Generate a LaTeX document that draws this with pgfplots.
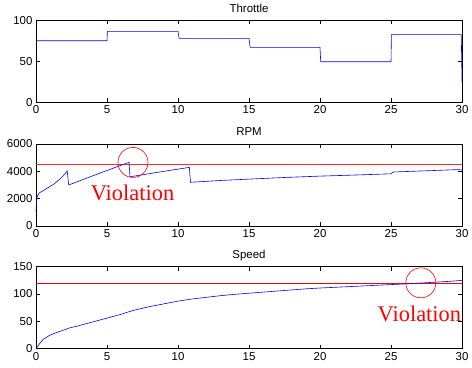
\documentclass[border=0pt]{standalone}
\usepackage{pgfplots}
\pgfplotsset{compat=1.18}
\usepackage{fontspec}
\setmainfont{Liberation Sans}
\newfontfamily\vfont{Liberation Serif}

\pgfplotsset{
  every axis title/.style={at={(0.5,1)}, anchor=base, yshift=8bp, inner sep=0pt, font=\fontsize{11.5}{13}\selectfont},
  mstyle/.style={
    scale only axis, width=426bp, height=82bp,
    anchor=south west,
    xmin=0, xmax=30, xtick={0,5,...,30},
    tick align=inside, major tick length=4bp,
    axis line style={line width=0.6pt, black},
    tick style={line width=0.5pt, black},
    ticklabel style={font=\fontsize{11.5}{13}\selectfont},
    /pgf/number format/assume math mode=true,
    /pgf/number format/1000 sep={},
    scaled y ticks=false,
    clip=false,
  }
}

\begin{document}
\begin{tikzpicture}
\path[use as bounding box] (0,0) rectangle (472bp,368bp);

% Throttle
\begin{axis}[mstyle, at={(36bp,265.7bp)}, ymin=0, ymax=100, ytick={0,50,100}, title={Throttle}]
\addplot[blue, line width=0.6pt] coordinates {
(0,75)(5,75)(5.03,86.5)(10,86.5)(10.08,78)(15,78)(15.08,67)(20,67)(20.05,49.5)(25,49.5)(25.03,82.5)(29.95,82.5)(30,25)};
\end{axis}

% RPM
\begin{axis}[mstyle, at={(36bp,142bp)}, ymin=0, ymax=6000, ytick={0,2000,4000,6000}, title={RPM}]
\addplot[red!85!white, line width=0.8pt] coordinates {(0,4530)(30,4530)};
\addplot[blue, line width=0.6pt] coordinates {
(0,1050)(0.03,1700)(0.06,2050)(0.1,2200)(0.23,2420)(0.5,2580)(0.75,2740)(1.0,2900)(1.25,3060)(1.46,3245)(1.7,3450)(1.92,3680)(2.2,4020)
(2.3,3000)(4.4,3830)(6.55,4660)
(6.62,3600)(8.7,3950)(10.8,4290)
(10.88,3200)(13,3330)(15,3430)(17.5,3550)(20,3650)(22.5,3730)(25,3820)(25.15,3950)(27.5,4040)(29.8,4130)(30,4080)};
\draw[red, line width=0.6pt] (axis cs:6.83,4650) circle[radius=15bp];
\node[red, font=\vfont\fontsize{22.5}{24}\selectfont] at (axis cs:6.8,2400) {Violation};
\end{axis}

% Speed
\begin{axis}[mstyle, at={(36bp,19.3bp)}, ymin=0, ymax=150, ytick={0,50,100,150}, title={Speed}]
\addplot[red, line width=0.6pt] coordinates {(0,120)(30,120)};
\addplot[blue, line width=0.6pt] coordinates {
(0,0)(0.25,9)(0.5,17)(1,25)(1.5,30)(2,34.5)(2.3,37.5)(3,42)(4,49)(5,56)(6,63)(6.6,68)(7,71)(8,77)(9,82)(10,87)(11,91)(12,94)(13,97)(14,99.5)(15,101.5)(16,103.5)(17,105.5)(18,107.5)(19,109.5)(20,111)(22,113.5)(24,116)(25,117.3)(26,118.5)(27,120)(28,121.5)(29,123)(30,125)};
\draw[red, line width=0.6pt] (axis cs:27.1,120.5) circle[radius=15bp];
\node[red, font=\vfont\fontsize{22.5}{24}\selectfont] at (axis cs:27.0,64) {Violation};
\end{axis}
\end{tikzpicture}
\end{document}
